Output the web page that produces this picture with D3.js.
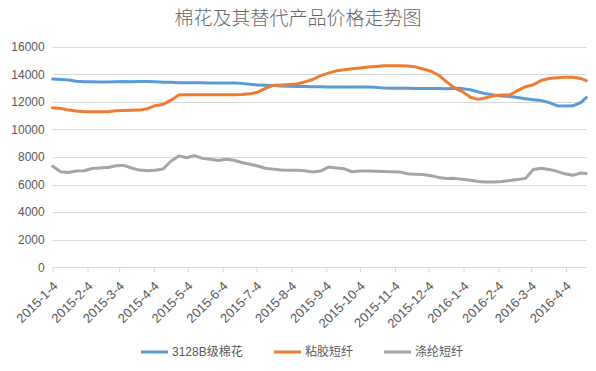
<!DOCTYPE html>
<html><head><meta charset="utf-8">
<script src="https://cdn.jsdelivr.net/npm/d3@7"></script>
<style>
html,body{margin:0;padding:0;background:#fff;}
svg{display:block;}
</style>
</head><body>
<svg id="chart" width="596" height="371"></svg>
<script>
const title = "棉花及其替代产品价格走势图";
const seriesNames = ["3128B级棉花", "粘胶短纤", "涤纶短纤"];
const seriesColors = ["#5b9bd5", "#ed7d31", "#a5a5a5"];
const startDate = "2015-01-04";
const endDate = "2016-04-22";
const tickLabels = ["2015-1-4","2015-2-4","2015-3-4","2015-4-4","2015-5-4","2015-6-4","2015-7-4","2015-8-4","2015-9-4","2015-10-4","2015-11-4","2015-12-4","2016-1-4","2016-2-4","2016-3-4","2016-4-4"];
const yTicks = [0,2000,4000,6000,8000,10000,12000,14000,16000];

// sample dates: weekly from 2015-01-04, plus last day
const dates = ["2015-01-04","2015-01-11","2015-01-18","2015-01-25","2015-02-01","2015-02-08","2015-02-15","2015-02-22","2015-03-01","2015-03-08","2015-03-15","2015-03-22","2015-03-29","2015-04-05","2015-04-12","2015-04-19","2015-04-26","2015-05-03","2015-05-10","2015-05-17","2015-05-24","2015-05-31","2015-06-07","2015-06-14","2015-06-21","2015-06-28","2015-07-05","2015-07-12","2015-07-19","2015-07-26","2015-08-02","2015-08-09","2015-08-16","2015-08-23","2015-08-30","2015-09-06","2015-09-13","2015-09-20","2015-09-27","2015-10-04","2015-10-11","2015-10-18","2015-10-25","2015-11-01","2015-11-08","2015-11-15","2015-11-22","2015-11-29","2015-12-06","2015-12-13","2015-12-20","2015-12-27","2016-01-03","2016-01-10","2016-01-17","2016-01-24","2016-01-31","2016-02-07","2016-02-14","2016-02-21","2016-02-28","2016-03-06","2016-03-13","2016-03-20","2016-03-27","2016-04-03","2016-04-10","2016-04-17","2016-04-22"];

const cotton = [13650,13630,13580,13500,13460,13450,13440,13440,13460,13470,13460,13470,13480,13460,13430,13420,13390,13390,13380,13380,13370,13370,13370,13360,13340,13270,13230,13200,13180,13150,13130,13120,13110,13100,13090,13080,13080,13080,13070,13080,13070,13050,13000,12990,12980,12980,12970,12970,12970,12960,12950,12980,12960,12880,12720,12580,12490,12430,12380,12310,12220,12150,12090,11950,11720,11700,11710,11950,12300];

const viscose = [11580,11520,11410,11340,11290,11290,11290,11290,11360,11380,11390,11400,11500,11720,11820,12120,12500,12510,12520,12520,12520,12520,12520,12520,12530,12580,12700,12980,13200,13230,13260,13290,13450,13620,13900,14080,14250,14330,14400,14460,14530,14570,14610,14620,14620,14600,14540,14380,14220,13930,13450,13000,12740,12330,12180,12300,12450,12490,12500,12820,13100,13240,13560,13690,13740,13780,13780,13700,13540];

const polyester = [7330,6930,6870,6980,7000,7170,7200,7230,7360,7390,7200,7050,7000,7040,7130,7690,8080,7950,8100,7900,7830,7750,7840,7760,7600,7480,7350,7180,7120,7060,7040,7040,7000,6920,6980,7270,7200,7140,6930,6980,6990,6960,6940,6930,6920,6780,6740,6730,6640,6520,6440,6450,6380,6320,6220,6190,6190,6230,6300,6360,6450,7100,7180,7100,6960,6780,6670,6840,6810];

const values = [cotton, viscose, polyester];

const parse = d3.timeParse("%Y-%m-%d");
const svg = d3.select("#chart");
const font = "'Liberation Sans', Arial, 'Noto Sans CJK SC', sans-serif";
const textColor = "#595959";
const gridColor = "#d9d9d9";

const x = d3.scaleTime().domain([parse(startDate), parse(endDate)]).range([52.7, 586.3]);
const y = d3.scaleLinear().domain([0, 16000]).range([267.3, 46.7]);

// title
svg.append("text").attr("x", 298).attr("y", 25).attr("text-anchor", "middle")
  .attr("font-family", "'Noto Sans CJK SC', sans-serif").attr("font-size", 19)
  .attr("font-weight", 300)
  .attr("fill", "#666666").text(title);

// gridlines
svg.append("g").selectAll("line").data(yTicks.filter(v => v > 0)).join("line")
  .attr("x1", 52.7).attr("x2", 586.3)
  .attr("y1", d => Math.round(y(d)) + 0.5).attr("y2", d => Math.round(y(d)) + 0.5)
  .attr("stroke", gridColor).attr("stroke-width", 1);

// y axis labels
const yAxis = d3.axisLeft(y).tickValues(yTicks).tickSize(0).tickPadding(8).tickFormat(d3.format("d"));
const gy = svg.append("g").attr("transform", "translate(52.7,0)").call(yAxis);
gy.select(".domain").remove();
gy.selectAll("text").attr("font-family", font).attr("font-size", 12).attr("fill", textColor);

// x axis
const tickDates = tickLabels.map(s => { const [yy, mm, dd] = s.split("-").map(Number); return new Date(yy, mm - 1, dd); });
const xAxis = d3.axisBottom(x).tickValues(tickDates).tickSize(5)
  .tickFormat((d, i) => tickLabels[i]);
const gx = svg.append("g").attr("transform", `translate(0,${Math.round(y(0)) + 0.5})`).call(xAxis);
gx.select(".domain").attr("stroke", gridColor).attr("d", `M52.7,0H586.3`);
gx.selectAll(".tick line").attr("stroke", gridColor);
gx.selectAll(".tick text")
  .attr("font-family", font).attr("font-size", 13).attr("fill", textColor)
  .attr("text-anchor", "end")
  .attr("dy", null).attr("y", 0)
  .attr("transform", "translate(3,17) rotate(-45)")
  .attr("dominant-baseline", "middle");

// lines
const line = d3.line().x((d, i) => x(parse(dates[i]))).y(d => y(d));
values.forEach((vals, k) => {
  svg.append("path").datum(vals).attr("d", line)
    .attr("fill", "none").attr("stroke", seriesColors[k])
    .attr("stroke-width", 3).attr("stroke-linejoin", "round").attr("stroke-linecap", "round");
});

// legend
const legendX = [141, 274, 384];
const lg = svg.append("g");
seriesNames.forEach((name, k) => {
  lg.append("line").attr("x1", legendX[k]).attr("x2", legendX[k] + 27)
    .attr("y1", 352).attr("y2", 352).attr("stroke", seriesColors[k]).attr("stroke-width", 3);
  lg.append("text").attr("x", legendX[k] + 31).attr("y", 352).attr("dominant-baseline", "central")
    .attr("font-family", font).attr("font-size", 12).attr("fill", textColor).text(name);
});
</script>
</body></html>
